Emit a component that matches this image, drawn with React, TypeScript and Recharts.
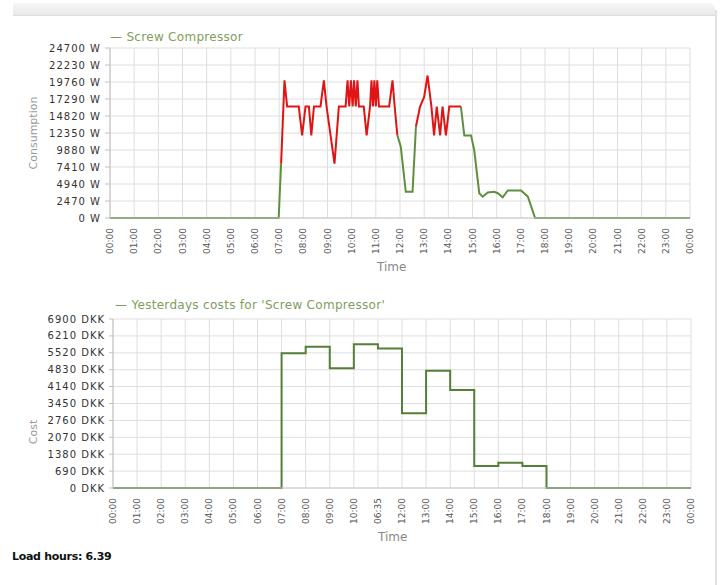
import { LineChart, CartesianGrid, XAxis, YAxis, Line } from "recharts";

// consumption samples: hour of day, watts, and whether the segment to the next point is red
const powerHours = [
  0, 6.98, 7.08, 7.22, 7.33, 7.81, 7.95, 8.09, 8.23, 8.33, 8.44, 8.71, 8.85, 8.96, 9.29, 9.47,
  9.75, 9.83, 9.9, 9.97, 10.04, 10.1, 10.17, 10.24, 10.3, 10.5, 10.62, 10.76, 10.82, 10.88, 10.94,
  11.0, 11.06, 11.13, 11.55, 11.69, 11.78, 11.89, 12.03, 12.24, 12.52, 12.66, 12.83, 13.0, 13.14,
  13.3, 13.41, 13.52, 13.66, 13.76, 13.9, 14.04, 14.52, 14.66, 14.94, 15.07, 15.28, 15.42, 15.63,
  15.9, 16.05, 16.25, 16.46, 17.01, 17.29, 17.59, 24,
];
const powerWatts = [
  0, 0, 7900, 20000, 16200, 16200, 12000, 16200, 16200, 12000, 16200, 16200, 20000, 16200, 7900, 16200,
  16200, 20000, 16200, 20000, 16200, 20000, 16200, 20000, 16200, 16200, 12000, 16200, 20000, 16200, 20000,
  16200, 20000, 16200, 16200, 20000, 16200, 12000, 10400, 3800, 3800, 13300, 16200, 17600, 20700,
  16200, 12000, 16200, 12000, 16200, 12000, 16200, 16200, 12000, 12000, 9880, 3600, 3100, 3700,
  3800, 3600, 3000, 4000, 4000, 3100, 0, 0,
];
const powerRed = [
  0, 0, 1, 1, 1, 1, 1, 1, 1, 1, 1, 1, 1, 1, 1, 1,
  1, 1, 1, 1, 1, 1, 1, 1, 1, 1, 1, 1, 1, 1, 1,
  1, 1, 1, 1, 1, 1, 0, 0, 0, 0, 1, 1, 1, 1,
  1, 1, 1, 1, 1, 1, 1, 0, 0, 0, 0, 0, 0, 0,
  0, 0, 0, 0, 0, 0, 0, 0,
];
const powerTicks = [0, 2470, 4940, 7410, 9880, 12350, 14820, 17290, 19760, 22230, 24700];

// yesterday's costs per hour (DKK)
const costHours = [0, 1, 2, 3, 4, 5, 6, 7, 8, 9, 10, 11, 12, 13, 14, 15, 16, 17, 18, 19, 20, 21, 22, 23, 24];
const costValues = [0, 0, 0, 0, 0, 0, 0, 5500, 5770, 4890, 5870, 5700, 3050, 4790, 4000, 900, 1030, 900, 0, 0, 0, 0, 0, 0, 0];
const costTicks = [0, 690, 1380, 2070, 2760, 3450, 4140, 4830, 5520, 6210, 6900];

const hourTicks = costHours;
const topTimeLabels = [
  "00:00", "01:00", "02:00", "03:00", "04:00", "05:00", "06:00", "07:00", "08:00", "09:00", "10:00", "11:00",
  "12:00", "13:00", "14:00", "15:00", "16:00", "17:00", "18:00", "19:00", "20:00", "21:00", "22:00", "23:00", "00:00",
];
const bottomTimeLabels = [
  "00:00", "01:00", "02:00", "03:00", "04:00", "05:00", "06:00", "07:00", "08:00", "09:00", "10:00", "06:35",
  "12:00", "13:00", "14:00", "15:00", "16:00", "17:00", "18:00", "19:00", "20:00", "21:00", "22:00", "23:00", "00:00",
];

const n = powerHours.length;
const powerData = powerHours.map((t, i) => {
  const w = powerWatts[i];
  const prevRed = i > 0 ? powerRed[i - 1] === 1 : false;
  const nextRed = i < n - 1 ? powerRed[i] === 1 : false;
  const prevGreen = i > 0 && powerRed[i - 1] === 0;
  const nextGreen = i < n - 1 && powerRed[i] === 0;
  return {
    t,
    red: prevRed || nextRed ? w : null,
    green: prevGreen || nextGreen ? w : null,
  };
});

const costData = costHours.map((t, i) => ({ t, cost: costValues[i] }));

const FONT = "'DejaVu Sans', Verdana, sans-serif";

const makeXTick = (labels: string[]) => (props: any) => {
  const { x, y, payload } = props;
  const idx = hourTicks.indexOf(payload.value);
  return (
    <text
      x={x + 3}
      y={y}
      transform={`rotate(-90 ${x + 3} ${y})`}
      textAnchor="end"
      fontSize={9}
      fontFamily={FONT}
      fill="#555"
    >
      {labels[idx]}
    </text>
  );
};

const tickStyle = { fontSize: 10, fill: "#333", fontFamily: FONT, letterSpacing: 1 };

const abs = (left: number, top: number): React.CSSProperties => ({
  position: "absolute",
  left,
  top,
});

export default function App() {
  return (
    <div
      style={{
        position: "fixed",
        left: 0,
        top: 0,
        width: 720,
        height: 585,
        background: "#fff",
        overflow: "hidden",
        fontFamily: FONT,
      }}
    >
      {/* panel frame */}
      <div
        style={{
          ...abs(13, 3),
          width: 702,
          height: 12,
          background: "linear-gradient(#f6f6f6, #e9e9e9)",
          borderBottom: "1px solid #dcdcdc",
          borderTopRightRadius: 6,
        }}
      />
      <div style={{ ...abs(715, 10), width: 2, height: 580, background: "#e2e2e2" }} />

      {/* consumption chart */}
      <div style={abs(0, 0)}>
        <LineChart width={720} height={290} data={powerData} margin={{ top: 48, right: 30, left: 0, bottom: 0 }}>
          <CartesianGrid stroke="#dedede" />
          <XAxis
            dataKey="t"
            type="number"
            domain={[0, 24]}
            ticks={hourTicks}
            interval={0}
            height={72}
            tickLine={false}
            tickMargin={4}
            stroke="#c8c8c8"
            tick={makeXTick(topTimeLabels)}
          />
          <YAxis
            type="number"
            domain={[0, 24700]}
            ticks={powerTicks}
            interval={0}
            width={110}
            tickSize={5}
            tickMargin={4}
            stroke="#c0c0c0"
            tick={tickStyle}
            tickFormatter={(v: number) => `${v} W`}
          />
          <Line
            type="linear"
            dataKey="green"
            stroke="#5f8f3e"
            strokeWidth={2}
            dot={false}
            connectNulls={false}
            isAnimationActive={false}
          />
          <Line
            type="linear"
            dataKey="red"
            stroke="#e01414"
            strokeWidth={2}
            dot={false}
            connectNulls={false}
            isAnimationActive={false}
          />
        </LineChart>
      </div>
      <div style={{ ...abs(110, 30), fontSize: 12, color: "#7f9d5e", letterSpacing: 0.3, whiteSpace: "nowrap" }}>
        — Screw Compressor
      </div>
      <div
        style={{
          ...abs(33, 133),
          fontSize: 11,
          color: "#9a9a9a",
          transform: "translate(-50%, -50%) rotate(-90deg)",
          whiteSpace: "nowrap",
        }}
      >
        Consumption
      </div>
      <div style={{ ...abs(377, 260), fontSize: 12, color: "#888" }}>Time</div>

      {/* cost chart */}
      <div style={abs(0, 290)}>
        <LineChart width={720} height={270} data={costData} margin={{ top: 29, right: 29, left: 0, bottom: 0 }}>
          <CartesianGrid stroke="#dedede" />
          <XAxis
            dataKey="t"
            type="number"
            domain={[0, 24]}
            ticks={hourTicks}
            interval={0}
            height={72}
            tickLine={false}
            tickMargin={4}
            stroke="#c8c8c8"
            tick={makeXTick(bottomTimeLabels)}
          />
          <YAxis
            type="number"
            domain={[0, 6900]}
            ticks={costTicks}
            interval={0}
            width={113}
            tickSize={4}
            tickMargin={4}
            stroke="#c0c0c0"
            tick={tickStyle}
            tickFormatter={(v: number) => `${v} DKK`}
          />
          <Line
            type="stepAfter"
            dataKey="cost"
            stroke="#557f38"
            strokeWidth={2}
            dot={false}
            isAnimationActive={false}
          />
        </LineChart>
      </div>
      <div style={{ ...abs(115, 298), fontSize: 12, color: "#7f9d5e", letterSpacing: 0.3, whiteSpace: "nowrap" }}>
        — Yesterdays costs for 'Screw Compressor'
      </div>
      <div
        style={{
          ...abs(33, 432),
          fontSize: 11,
          color: "#9a9a9a",
          transform: "translate(-50%, -50%) rotate(-90deg)",
          whiteSpace: "nowrap",
        }}
      >
        Cost
      </div>
      <div style={{ ...abs(378, 530), fontSize: 12, color: "#888" }}>Time</div>

      <div style={{ ...abs(12, 550), fontSize: 11, fontWeight: "bold", color: "#111", letterSpacing: -0.3 }}>
        Load hours: 6.39
      </div>
    </div>
  );
}
